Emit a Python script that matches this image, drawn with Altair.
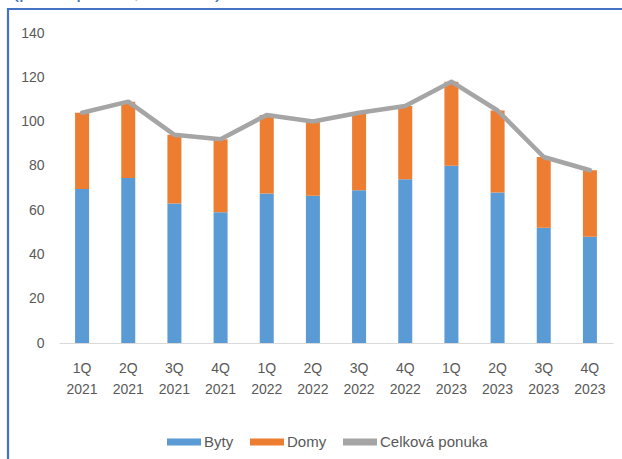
import altair as alt
import pandas as pd

# Quarterly supply of flats and houses (thousands)
quarters = ["1Q 2021", "2Q 2021", "3Q 2021", "4Q 2021",
            "1Q 2022", "2Q 2022", "3Q 2022", "4Q 2022",
            "1Q 2023", "2Q 2023", "3Q 2023", "4Q 2023"]
byty = [69.5, 74.5, 63, 59, 67.5, 66.5, 69, 74, 80, 68, 52, 48]
domy = [34.5, 34.5, 31, 33, 35.5, 33.5, 35, 33, 38, 37, 32, 30]
series_names = ["Byty", "Domy", "Celková ponuka"]
series_colors = ["#5B9BD5", "#ED7D31", "#A5A5A5"]
y_ticks = [0, 20, 40, 60, 80, 100, 120, 140]

bars = pd.DataFrame(
    [{"q": q, "series": "Byty", "ord": 0, "value": b} for q, b in zip(quarters, byty)]
    + [{"q": q, "series": "Domy", "ord": 1, "value": d} for q, d in zip(quarters, domy)]
)
totals = pd.DataFrame({
    "q": quarters,
    "series": "Celková ponuka",
    "value": [b + d for b, d in zip(byty, domy)],
})

FONT = "Liberation Sans"
LABEL = "#595959"

x_enc = alt.X(
    "q:N", sort=quarters, title=None,
    scale=alt.Scale(paddingInner=0, paddingOuter=0),
    axis=alt.Axis(labelExpr="split(datum.label, ' ')", labelAngle=0,
                  labelFont=FONT, labelFontSize=14, labelColor=LABEL,
                  labelPadding=18, labelLineHeight=21, labelBaseline="top",
                  ticks=False, domainColor="#D9D9D9", domainWidth=1.2),
)
color_enc = alt.Color(
    "series:N",
    scale=alt.Scale(domain=series_names, range=series_colors),
    legend=alt.Legend(
        title=None, orient="none", direction="horizontal",
        legendX=108, legendY=392,
        symbolType="M-1,-0.2H1V0.2H-1Z", symbolSize=1156,
        symbolStrokeWidth=0, symbolOpacity=1,
        labelFont=FONT, labelFontSize=15, labelColor=LABEL,
        labelOffset=3, columnPadding=16,
    ),
)

bar_layer = alt.Chart(bars).mark_bar(size=14).encode(
    x=x_enc,
    y=alt.Y("value:Q", stack="zero", title=None,
            scale=alt.Scale(domain=[0, 140], nice=False),
            axis=alt.Axis(values=y_ticks, grid=False, domain=False, ticks=False,
                          labelFont=FONT, labelFontSize=14, labelColor=LABEL,
                          labelPadding=15)),
    color=color_enc,
    order=alt.Order("ord:Q", sort="ascending"),
)

line_layer = alt.Chart(totals).mark_line(
    strokeWidth=4.5, strokeJoin="round", strokeCap="round"
).encode(
    x=alt.X("q:N", sort=quarters),
    y=alt.Y("value:Q"),
    color=alt.Color("series:N"),
)

# Blue frame around the chart and the caption running off the top edge
frame = alt.Chart(pd.DataFrame({"k": [0]})).mark_rect(
    fill=None, stroke="#4472C4", strokeWidth=2.2
).encode(
    x=alt.value(-51), x2=alt.value(580),
    y=alt.value(-24), y2=alt.value(440),
)
caption = alt.Chart(pd.DataFrame({"t": ["(počet ponúk, v tis. ks)"]})).mark_text(
    align="left", baseline="alphabetic", font=FONT, fontSize=21, color="#4472C4"
).encode(
    x=alt.value(-47), y=alt.value(-35.5), text="t:N",
)

chart = alt.layer(bar_layer, line_layer, frame, caption).properties(
    width=554, height=310,
    autosize=alt.AutoSizeParams(type="none"),
    padding={"left": 59, "top": 33, "right": 9, "bottom": 116},
    background="white",
).configure_view(stroke=None)

chart.save("out.html", embed_options={"renderer": "svg", "actions": False})
